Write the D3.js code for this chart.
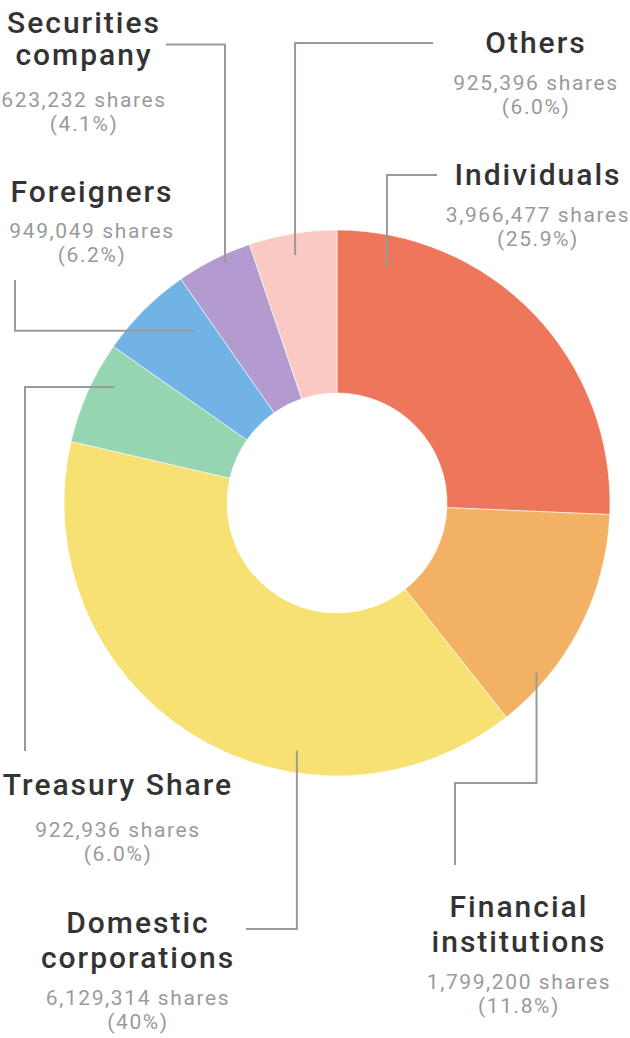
<!DOCTYPE html>
<html>
<head>
<meta charset="utf-8">
<script src="https://cdn.jsdelivr.net/npm/d3@7"></script>
<style>
  html, body { margin: 0; padding: 0; background: #fff; }
  svg { display: block; }
  .ttl { font-family: Roboto, "Noto Sans", sans-serif; font-weight: 500; font-size: 30px; fill: #333; letter-spacing: 2px; }
  .sub { font-family: Roboto, "Noto Sans", sans-serif; font-weight: 400; font-size: 21px; fill: #9a9a9a; letter-spacing: 1.6px; }
</style>
</head>
<body>
<script>
// ---- data ----
const categories = ["Individuals", "Financial institutions", "Domestic corporations", "Treasury Share", "Foreigners", "Securities company", "Others"];
const shares = [3966477, 1799200, 6129314, 922936, 949049, 623232, 925396];
const percentLabels = ["25.9%", "11.8%", "40%", "6.0%", "6.2%", "4.1%", "6.0%"];
// slice sizes as drawn in the picture (percent of the ring)
const sliceValues = [25.7, 13.7, 39.3, 6.1, 5.6, 4.5, 5.2];
const colors = ["#EE765A", "#F3B263", "#F6E172", "#95D5B2", "#72B3E6", "#B39BD0", "#FAC9C3"];

// ---- layout (annotation placement) ----
const W = 630, H = 1038;
const cx = 337, cy = 503, outerR = 273, innerR = 110;
const labelLayout = [
  { x: 538, title: ["Individuals"], ty: [185], sy: [222, 246] },
  { x: 519, title: ["Financial", "institutions"], ty: [917, 952], sy: [989, 1013] },
  { x: 138, title: ["Domestic", "corporations"], ty: [933, 968], sy: [1005, 1029] },
  { x: 118, title: ["Treasury Share"], ty: [795], sy: [837, 861] },
  { x: 92,  title: ["Foreigners"], ty: [202], sy: [238, 262] },
  { x: 84,  title: ["Securities", "company"], ty: [33, 65], sy: [107, 131] },
  { x: 536, title: ["Others"], ty: [53], sy: [90, 114] }
];
const leaders = [
  { a: 11.96, r: 241, steps: [["v", 175], ["h", 437]] },
  { a: 130.4, r: 262, steps: [["v", 783], ["h", 455], ["v", 865]] },
  { a: 189.2, r: 251, steps: [["v", 929], ["h", 246]] },
  { a: 297.5, r: 251, steps: [["h", 25], ["v", 751]] },
  { a: 320.3, r: 224, steps: [["h", 15], ["v", 280]] },
  { a: 335.0, r: 265, steps: [["v", 44.5], ["h", 166]] },
  { a: 350.4, r: 251.5, steps: [["v", 43], ["h", 433]] }
];

const svg = d3.select("body").append("svg").attr("width", W).attr("height", H);

const data = categories.map((c, i) => ({ name: c, value: sliceValues[i], shares: shares[i], pct: percentLabels[i], color: colors[i] }));
const pie = d3.pie().value(d => d.value).sort(null);
const arc = d3.arc().innerRadius(innerR).outerRadius(outerR);

const g = svg.append("g").attr("transform", `translate(${cx},${cy})`);
g.selectAll("path.slice").data(pie(data)).join("path")
  .attr("class", "slice")
  .attr("d", arc)
  .attr("fill", d => d.data.color)
  .attr("stroke", "#fff")
  .attr("stroke-width", 0.6);

const fmt = d3.format(",");
leaders.forEach(l => {
  const p = d3.pointRadial(l.a * Math.PI / 180, l.r);
  let x = cx + p[0], y = cy + p[1];
  const pts = [[x, y]];
  l.steps.forEach(([k, v]) => { if (k === "v") y = v; else x = v; pts.push([x, y]); });
  svg.append("path")
    .attr("d", d3.line()(pts))
    .attr("fill", "none")
    .attr("stroke", "#9a9a9a")
    .attr("stroke-width", 2);
});

data.forEach((d, i) => {
  const L = labelLayout[i];
  L.title.forEach((t, j) => {
    svg.append("text").attr("class", "ttl").attr("x", L.x).attr("y", L.ty[j])
      .attr("text-anchor", "middle").text(t);
  });
  svg.append("text").attr("class", "sub").attr("x", L.x).attr("y", L.sy[0])
    .attr("text-anchor", "middle").text(fmt(d.shares) + " shares");
  svg.append("text").attr("class", "sub").attr("x", L.x).attr("y", L.sy[1])
    .attr("text-anchor", "middle").text("(" + d.pct + ")");
});
</script>
</body>
</html>
